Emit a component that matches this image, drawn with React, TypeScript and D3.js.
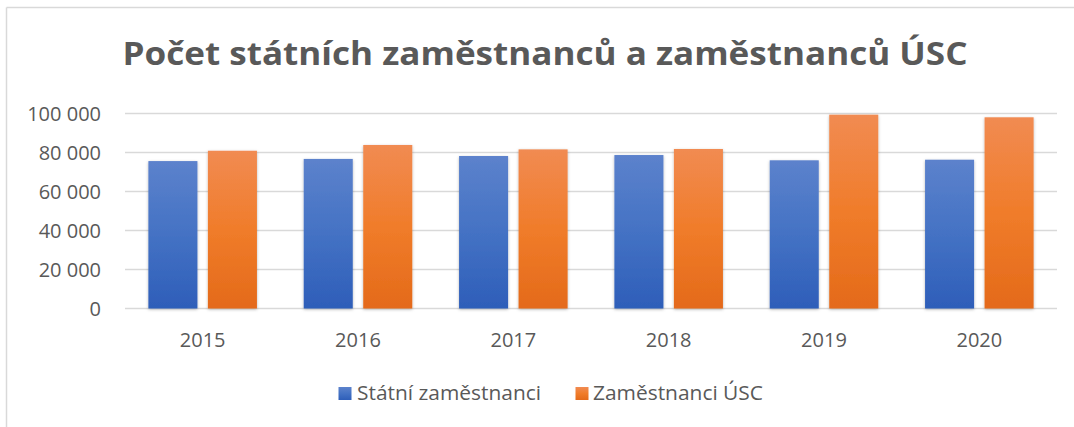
import React from "react";
import * as d3 from "d3";

const years = ["2015", "2016", "2017", "2018", "2019", "2020"];
const seriesNames = ["Státní zaměstnanci", "Zaměstnanci ÚSC"];
const statni = [75600, 76700, 78200, 78700, 76000, 76300];
const usc = [80900, 83850, 81600, 81800, 99400, 98050];
const yTicks = [0, 20000, 40000, 60000, 80000, 100000];
const title = "Počet státních zaměstnanců a zaměstnanců ÚSC";

const W = 1074;
const H = 427;
const FONT = "'Open Sans', 'Noto Sans', sans-serif";
const TXT = "#595959";

export default function App() {
  const x0 = d3.scaleBand<string>().domain(years).range([125, 1057]).padding(0);
  const x1 = d3
    .scaleBand<string>()
    .domain(seriesNames)
    .range([0, x0.bandwidth()])
    .paddingInner(0.176)
    .paddingOuter(0.393);
  const y = d3.scaleLinear().domain([0, 100000]).range([308.5, 113.5]);
  const fmt = (v: number) => d3.format(",")(v).replace(/,/g, " ");
  const data = [statni, usc];
  const grads = ["gBlue", "gOrange"];

  return (
    <svg
      width={W}
      height={H}
      style={{ position: "absolute", left: 0, top: 0, background: "#fff" }}
      fontFamily={FONT}
    >
      <defs>
        <linearGradient id="gBlue" x1="0" y1="0" x2="0" y2="1">
          <stop offset="0" stopColor="#5c82cc" />
          <stop offset="0.5" stopColor="#4472c4" />
          <stop offset="1" stopColor="#2e5eb9" />
        </linearGradient>
        <linearGradient id="gOrange" x1="0" y1="0" x2="0" y2="1">
          <stop offset="0" stopColor="#f18b52" />
          <stop offset="0.5" stopColor="#f07c2a" />
          <stop offset="1" stopColor="#e46a1a" />
        </linearGradient>
        <filter id="shadow" x="-20%" y="-5%" width="140%" height="115%">
          <feDropShadow dx="0" dy="1" stdDeviation="1.6" floodColor="#000" floodOpacity="0.28" />
        </filter>
      </defs>
      <rect x={0} y={0} width={W} height={H} fill="#fff" />
      <line x1={6.5} y1={7.5} x2={W} y2={7.5} stroke="#d9d9d9" strokeWidth={1.5} />
      <line x1={6.5} y1={7.5} x2={6.5} y2={H} stroke="#d9d9d9" strokeWidth={1.5} />

      <text
        x={545}
        y={65}
        textAnchor="middle"
        fontSize={33}
        fontWeight="bold"
        fill={TXT}
        textLength={845}
        lengthAdjust="spacingAndGlyphs"
      >
        {title}
      </text>

      {yTicks.map((t) => (
        <g key={t}>
          <line x1={125} x2={1057} y1={y(t)} y2={y(t)} stroke="#d9d9d9" strokeWidth={1.5} />
          <text x={101} y={y(t)} dy="0.36em" textAnchor="end" fontSize={20} fill={TXT}>
            {fmt(t)}
          </text>
        </g>
      ))}

      {years.map((yr, i) => (
        <g key={yr} transform={`translate(${x0(yr)},0)`}>
          {seriesNames.map((s, k) => (
            <rect
              key={s}
              x={x1(s)}
              y={y(data[k][i])}
              width={x1.bandwidth()}
              height={y(0) - y(data[k][i])}
              fill={`url(#${grads[k]})`}
              filter="url(#shadow)"
            />
          ))}
          <text
            x={x0.bandwidth() / 2}
            y={347}
            textAnchor="middle"
            fontSize={20}
            fill={TXT}
          >
            {yr}
          </text>
        </g>
      ))}

      <g>
        <rect x={338.5} y={387} width={13} height={13} fill="url(#gBlue)" />
        <text x={357} y={400} fontSize={20} fill={TXT} textLength={184} lengthAdjust="spacingAndGlyphs">
          {seriesNames[0]}
        </text>
        <rect x={575.5} y={387} width={13} height={13} fill="url(#gOrange)" />
        <text x={593} y={400} fontSize={20} fill={TXT} textLength={170} lengthAdjust="spacingAndGlyphs">
          {seriesNames[1]}
        </text>
      </g>
    </svg>
  );
}
